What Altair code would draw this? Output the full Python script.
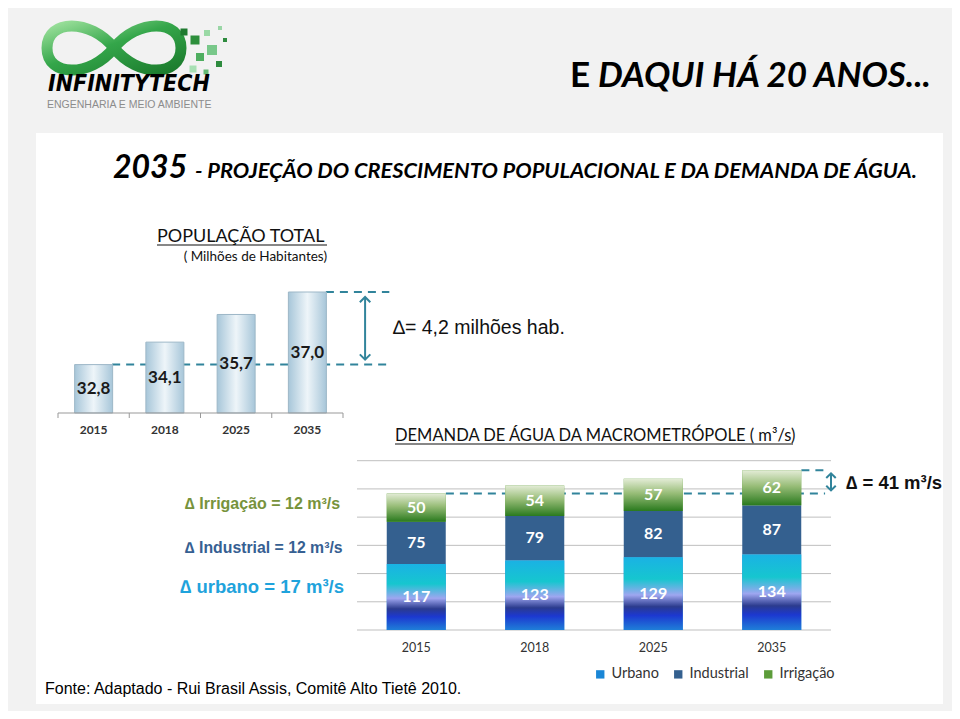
import altair as alt
import pandas as pd

# ---------------- data ----------------
years = ["2015", "2018", "2025", "2035"]
populacao = [32.8, 34.1, 35.7, 37.0]
urbano = [117, 123, 129, 134]
industrial = [75, 79, 82, 87]
irrigacao = [50, 54, 57, 62]
series = ["Urbano", "Industrial", "Irrigação"]
grid_vals = [0, 50, 100, 150, 200, 250, 300]

pop_df = pd.DataFrame({
    "year": years,
    "idx": list(range(len(years))),
    "pop": populacao,
    "label": [f"{v:.1f}".replace(".", ",") for v in populacao],
})

rows = []
for i, y in enumerate(years):
    for k, (s, vals) in enumerate(zip(series, [urbano, industrial, irrigacao])):
        rows.append({"year": y, "idx": i, "serie": s, "order": k, "value": vals[i]})
dem_df = pd.DataFrame(rows)
tot_first = urbano[0] + industrial[0] + irrigacao[0]
tot_last = urbano[-1] + industrial[-1] + irrigacao[-1]

dummy = pd.DataFrame({"d": [0]})
W, H = 944, 703


def txt(s, x, y, size, color="#000", font="Lato", weight="normal", style="normal",
        align="left", baseline="middle"):
    return alt.Chart(dummy).mark_text(
        text=s, fontSize=size, color=color, font=font, fontWeight=weight,
        fontStyle=style, align=align, baseline=baseline
    ).encode(x=alt.value(x), y=alt.value(y))


def hline(x1, x2, y, color="#000", width=1):
    return alt.Chart(dummy).mark_rule(color=color, strokeWidth=width).encode(
        x=alt.value(x1), x2=alt.value(x2), y=alt.value(y))


def sq(x, y, s, c):
    return alt.Chart(dummy).mark_square(size=s * s, color=c, opacity=1).encode(
        x=alt.value(x), y=alt.value(y))


# ---------------- decoration ----------------
panel = alt.Chart(dummy).mark_rect(color="white").encode(
    x=alt.value(28), x2=alt.value(935), y=alt.value(125), y2=alt.value(696))

inf_path = ("M 0 0 C 0.35 -0.44 1 -0.44 1 0 C 1 0.44 0.35 0.44 0 0 "
            "C -0.35 -0.44 -1 -0.44 -1 0 C -1 0.44 -0.35 0.44 0 0 Z")
infinity = alt.Chart(dummy).mark_point(
    shape=inf_path, size=134 * 134, filled=False, opacity=1,
    stroke=alt.LinearGradient(gradient="linear", x1=0, y1=0, x2=1, y2=1,
                              stops=[alt.GradientStop(offset=0, color="#9be09b"),
                                     alt.GradientStop(offset=0.45, color="#34a64a"),
                                     alt.GradientStop(offset=1, color="#1b7a2c")]),
    strokeWidth=11
).encode(x=alt.value(106), y=alt.value(40))

logo_sq = [sq(176, 24, 7, "#1f7a30"), sq(187, 32, 9, "#2d8f3c"), sq(199, 25, 6, "#9ad9a5"),
           sq(204, 42, 10, "#79c88a"), sq(192, 49, 8, "#4fae60"), sq(211, 56, 6, "#2e8b3e"),
           sq(185, 61, 7, "#a8e0b4"), sq(217, 32, 4, "#2e8b3e"), sq(212, 20, 4, "#9ad6a6"),
           sq(198, 64, 5, "#64bb74")]

deco = [
    panel, infinity, *logo_sq,
    txt("INFINITYTECH", 40, 76, 23, font="DejaVu Sans Condensed, Liberation Sans",
        weight="bold", style="italic"),
    txt("ENGENHARIA E MEIO AMBIENTE", 39, 97, 10.5, color="#8c8c8c", font="Liberation Sans"),
    txt("E", 562, 68, 35, weight="bold"),
    txt("DAQUI HÁ 20 ANOS...", 590, 68, 35, weight="bold", style="italic"),
    txt("2035", 105, 170, 32, weight="bold", style="italic", baseline="alphabetic"),
    txt("- PROJEÇÃO DO CRESCIMENTO POPULACIONAL E DA DEMANDA DE ÁGUA.", 187, 170, 21.8,
        weight="bold", style="italic", baseline="alphabetic"),
    txt("POPULAÇÃO TOTAL", 149, 234, 18, color="#111", baseline="alphabetic"),
    hline(149, 319, 237, "#111", 1.2),
    txt("( Milhões de Habitantes)", 319, 249, 13.5, color="#111", align="right"),
    txt("∆= 4,2 milhões hab.", 385, 320, 19.5, color="#111", font="Liberation Sans"),
    txt("DEMANDA DE ÁGUA DA MACROMETRÓPOLE ( m³/s)", 387, 433, 16.5, color="#111",
        baseline="alphabetic"),
    hline(387, 785, 436, "#111", 1.2),
    txt("∆ Irrigação = 12 m³/s", 177, 496, 16, color="#77933c", font="Liberation Sans", weight="bold"),
    txt("∆ Industrial = 12 m³/s", 177, 540, 15.8, color="#366092", font="Liberation Sans", weight="bold"),
    txt("∆ urbano = 17 m³/s", 172, 579, 18.5, color="#1fa3dc", font="Liberation Sans", weight="bold"),
    txt("∆ = 41 m³/s", 838, 475, 18.5, color="#111", font="Liberation Sans", weight="bold"),
    txt("Fonte: Adaptado -  Rui Brasil Assis, Comitê Alto Tietê 2010.", 37, 681, 16,
        color="#000", font="Liberation Sans"),
]

TEAL = "#31849b"
UP = "M -1 1 L 0 0 L 1 1"
DOWN = "M -1 -1 L 0 0 L 1 -1"

# ---------------- population chart ----------------
px = alt.Scale(domain=[-0.5, 3.5], range=[45, 340], nice=False, zero=False)
py = alt.Scale(domain=[30, 37], range=[405, 284], nice=False, zero=False)
PX = lambda f: alt.X(f, scale=px, axis=None)
PY = lambda f: alt.Y(f, scale=py, axis=None)

pop_base = alt.Chart(pop_df)
pop_grad = alt.LinearGradient(
    gradient="linear", x1=0, y1=0, x2=1, y2=0,
    stops=[alt.GradientStop(offset=0, color="#a7c6d9"),
           alt.GradientStop(offset=0.5, color="#eef5f9"),
           alt.GradientStop(offset=1, color="#a7c6d9")])

pop_dash_low = alt.Chart(dummy).mark_rule(color=TEAL, strokeWidth=2, strokeDash=[8, 6]).encode(
    x=alt.X(datum=0.26, scale=px, axis=None), x2=alt.datum(4.15),
    y=alt.Y(datum=populacao[0], scale=py, axis=None))
pop_dash_high = alt.Chart(dummy).mark_rule(color=TEAL, strokeWidth=2, strokeDash=[8, 6]).encode(
    x=alt.X(datum=3.26, scale=px, axis=None), x2=alt.datum(4.15),
    y=alt.Y(datum=populacao[-1], scale=py, axis=None))
pop_arrow = alt.Chart(dummy).mark_rule(color=TEAL, strokeWidth=2, yOffset=-5, y2Offset=5).encode(
    x=alt.X(datum=3.81, scale=px, axis=None),
    y=alt.Y(datum=populacao[0], scale=py, axis=None), y2=alt.datum(populacao[-1]))
pop_head_up = alt.Chart(dummy).mark_point(shape=UP, size=110, filled=False, opacity=1,
                                          stroke=TEAL, strokeWidth=2, yOffset=5).encode(
    x=alt.X(datum=3.81, scale=px, axis=None), y=alt.Y(datum=populacao[-1], scale=py, axis=None))
pop_head_dn = alt.Chart(dummy).mark_point(shape=DOWN, size=110, filled=False, opacity=1,
                                          stroke=TEAL, strokeWidth=2, yOffset=-5).encode(
    x=alt.X(datum=3.81, scale=px, axis=None), y=alt.Y(datum=populacao[0], scale=py, axis=None))

pop_bars = pop_base.mark_bar(size=38, fill=pop_grad, stroke="#9db7c7", strokeWidth=1).encode(
    x=PX("idx:Q"), y=PY("pop:Q"), y2=alt.datum(30))
pop_labels = pop_base.transform_calculate(mid="(datum.pop + 30) / 2").mark_text(
    font="Lato", fontWeight="bold", fontSize=17, color="#1a1a1a").encode(
    x=PX("idx:Q"), y=PY("mid:Q"), text="label:N")
pop_years = pop_base.mark_text(font="Lato", fontWeight="bold", fontSize=12, color="#333",
                               dy=17).encode(x=PX("idx:Q"), y=alt.Y(datum=30, scale=py, axis=None),
                                             text="year:N")
pop_axis = alt.Chart(dummy).mark_rule(color="#999").encode(
    x=alt.X(datum=-0.5, scale=px, axis=None), x2=alt.datum(3.5),
    y=alt.Y(datum=30, scale=py, axis=None))
tick_df = pd.DataFrame({"b": [i - 0.5 for i in range(len(years) + 1)]})
pop_ticks = alt.Chart(tick_df).mark_rule(color="#999", y2Offset=5).encode(
    x=PX("b:Q"), y=alt.Y(datum=30, scale=py, axis=None), y2=alt.datum(30))

pop_chart = alt.layer(pop_dash_low, pop_dash_high, pop_arrow, pop_head_up, pop_head_dn,
                      pop_bars, pop_labels, pop_axis, pop_ticks, pop_years)

# ---------------- demand chart ----------------
dx = alt.Scale(domain=[-0.5, 3.5], range=[344, 828], nice=False, zero=False)
dy = alt.Scale(domain=[0, 300], range=[622, 452.7], nice=False, zero=False)
DX = lambda f: alt.X(f, scale=dx, axis=None)
DY = lambda f: alt.Y(f, scale=dy, axis=None)

stacked = alt.Chart(dem_df).transform_stack(
    stack="value", groupby=["idx"], as_=["y0", "y1"],
    sort=[alt.SortField("order", order="ascending")])

grid_df = pd.DataFrame({"v": grid_vals})
dem_grid = alt.Chart(grid_df).mark_rule(color="#bfbfbf", strokeWidth=1).encode(
    x=alt.X(datum=-0.5, scale=dx, axis=None), x2=alt.datum(3.5), y=DY("v:Q"))

dem_dash_low = alt.Chart(dummy).mark_rule(color=TEAL, strokeWidth=2, strokeDash=[8, 6]).encode(
    x=alt.X(datum=0.25, scale=dx, axis=None), x2=alt.datum(3.45),
    y=alt.Y(datum=tot_first, scale=dy, axis=None))
dem_dash_high = alt.Chart(dummy).mark_rule(color=TEAL, strokeWidth=2, strokeDash=[8, 6]).encode(
    x=alt.X(datum=3.25, scale=dx, axis=None), x2=alt.datum(3.45),
    y=alt.Y(datum=tot_last, scale=dy, axis=None))
dem_arrow = alt.Chart(dummy).mark_rule(color=TEAL, strokeWidth=2, yOffset=-3, y2Offset=3).encode(
    x=alt.X(datum=3.5, scale=dx, axis=None),
    y=alt.Y(datum=tot_first, scale=dy, axis=None), y2=alt.datum(tot_last))
dem_head_up = alt.Chart(dummy).mark_point(shape=UP, size=90, filled=False, opacity=1,
                                          stroke=TEAL, strokeWidth=2, yOffset=3).encode(
    x=alt.X(datum=3.5, scale=dx, axis=None), y=alt.Y(datum=tot_last, scale=dy, axis=None))
dem_head_dn = alt.Chart(dummy).mark_point(shape=DOWN, size=90, filled=False, opacity=1,
                                          stroke=TEAL, strokeWidth=2, yOffset=-3).encode(
    x=alt.X(datum=3.5, scale=dx, axis=None), y=alt.Y(datum=tot_first, scale=dy, axis=None))

colors = ["#1a86d6", "#34608f", "#5c9c3a"]
dem_bars = stacked.mark_bar(size=59).encode(
    x=DX("idx:Q"), y=DY("y1:Q"), y2="y0:Q",
    color=alt.Color("serie:N", scale=alt.Scale(domain=series, range=colors),
                    legend=alt.Legend(orient="none", legendX=585, legendY=659,
                                      direction="horizontal", title=None,
                                      symbolType="square", symbolSize=70,
                                      symbolStrokeWidth=0, labelFont="Lato",
                                      labelFontSize=14.5, labelColor="#333",
                                      columnPadding=12, labelOffset=4)))

urb_grad = alt.LinearGradient(
    gradient="linear", x1=0, y1=0, x2=0, y2=1,
    stops=[alt.GradientStop(offset=0, color="#1ab2e4"),
           alt.GradientStop(offset=0.3, color="#16c6cf"),
           alt.GradientStop(offset=0.52, color="#9ea6f0"),
           alt.GradientStop(offset=0.68, color="#2b3b8e"),
           alt.GradientStop(offset=0.8, color="#1c38d0"),
           alt.GradientStop(offset=1, color="#1f7fd8")])
irr_grad = alt.LinearGradient(
    gradient="linear", x1=0, y1=0, x2=0, y2=1,
    stops=[alt.GradientStop(offset=0, color="#e3ecd6"),
           alt.GradientStop(offset=0.45, color="#98bd78"),
           alt.GradientStop(offset=1, color="#2a7a1e")])

dem_urb = stacked.transform_filter(alt.datum.serie == "Urbano").mark_bar(size=59, fill=urb_grad).encode(
    x=DX("idx:Q"), y=DY("y1:Q"), y2="y0:Q")
dem_irr = stacked.transform_filter(alt.datum.serie == "Irrigação").mark_bar(size=59, fill=irr_grad).encode(
    x=DX("idx:Q"), y=DY("y1:Q"), y2="y0:Q")
dem_labels = stacked.transform_calculate(mid="(datum.y0 + datum.y1) / 2").mark_text(
    font="Lato", fontWeight="bold", fontSize=16, color="white").encode(
    x=DX("idx:Q"), y=DY("mid:Q"), text="value:Q")
dem_years = alt.Chart(pop_df).mark_text(font="Lato", fontSize=12.5, color="#333", dy=18).encode(
    x=DX("idx:Q"), y=alt.Y(datum=0, scale=dy, axis=None), text="year:N")

dem_chart = alt.layer(dem_grid, dem_dash_low, dem_dash_high, dem_bars, dem_urb, dem_irr,
                      dem_labels, dem_years, dem_arrow, dem_head_up, dem_head_dn)

chart = alt.layer(*deco, pop_chart, dem_chart).resolve_scale(
    x="independent", y="independent"
).properties(
    width=W, height=H, padding=0, autosize=alt.AutoSizeParams(type="none"),
    background="#f2f2f2"
).configure_view(stroke=None)

chart.save("out.html", embed_options={"renderer": "svg", "actions": False})
